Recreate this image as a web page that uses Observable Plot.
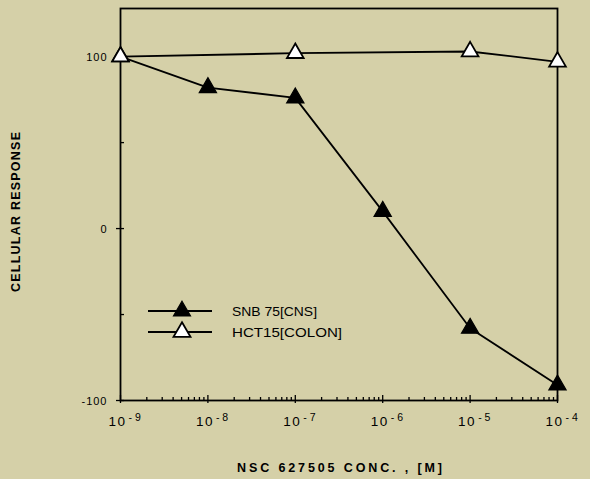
<!DOCTYPE html>
<html><head><meta charset="utf-8">
<script src="https://cdn.jsdelivr.net/npm/d3@7"></script>
<script src="https://cdn.jsdelivr.net/npm/@observablehq/plot@0.6"></script>
<style>
html,body{margin:0;padding:0;background:#d5d0a8;}
svg{display:block;}
</style>
</head><body><div id="chart"></div>
<script>
// ---- data ----
const snbConc = [1e-9, 1e-8, 1e-7, 1e-6, 1e-5, 1e-4];
const snbResponse = [100, 82, 76, 10, -58, -91];
const hctConc = [1e-9, 1e-7, 1e-5, 1e-4];
const hctResponse = [100, 102, 103, 97];
const seriesNames = ["SNB 75[CNS]", "HCT15[COLON]"];
const xTickValues = [1e-9, 1e-8, 1e-7, 1e-6, 1e-5, 1e-4];
const xTickExponents = ["-9", "-8", "-7", "-6", "-5", "-4"];
const yTickValues = [100, 0, -100];
const yMinorTicks = [50, -50];
const xLabel = "NSC 627505 CONC. , [M]";
const yLabel = "CELLULAR RESPONSE";

const xMinor = [];
for (let e = -9; e < -4; e++) for (let m = 2; m <= 9; m++) xMinor.push(m * Math.pow(10, e));

const snb = snbConc.map((c, i) => ({c, r: snbResponse[i]}));
const hct = hctConc.map((c, i) => ({c, r: hctResponse[i]}));
const FONT = "'Liberation Sans', Arial, sans-serif";

const plot = Plot.plot({
  width: 590, height: 479,
  marginLeft: 120, marginRight: 33, marginTop: 8, marginBottom: 79,
  style: {background: "#d5d0a8", fontFamily: FONT, color: "black"},
  x: {type: "log", domain: [1e-9, 1e-4], axis: null},
  y: {domain: [-100, 128], axis: null},
  marks: [
    Plot.frame({stroke: "black", strokeWidth: 1.8}),
    // x ticks
    Plot.axisX(xMinor, {anchor: "bottom", label: null, tickSize: 3, dy: -3, tickFormat: () => "", strokeWidth: 1.3}),
    Plot.axisX(xTickValues, {anchor: "bottom", label: null, tickSize: 8, dy: -5, tickFormat: () => "", strokeWidth: 1.3}),
    // y ticks
    Plot.axisY(yTickValues, {anchor: "left", label: null, tickSize: 8, dx: 4, tickFormat: () => "", strokeWidth: 1.3}),
    Plot.axisY(yMinorTicks, {anchor: "left", label: null, tickSize: 4, dx: 4, tickFormat: () => "", strokeWidth: 1.3}),
    // tick labels
    Plot.text(xTickValues, {x: d => d, y: -100, dy: 21, dx: -12, text: () => "10", textAnchor: "start", fontSize: 13.5}),
    Plot.text(yTickValues, {x: 1e-9, y: d => d, dx: -13, dy: 1, text: d => String(d), textAnchor: "end", fontSize: 11}),
    // series
    Plot.line(snb, {x: "c", y: "r", stroke: "black", strokeWidth: 1.8}),
    Plot.line(hct, {x: "c", y: "r", stroke: "black", strokeWidth: 1.8}),
    Plot.dot(snb, {x: "c", y: "r", symbol: "triangle", r: 6.4, fill: "black", stroke: "black", strokeWidth: 1.2}),
    Plot.dot(hct, {x: "c", y: "r", symbol: "triangle", r: 6.2, fill: "white", stroke: "black", strokeWidth: 1.8})
  ]
});
document.getElementById("chart").appendChild(plot);

const svg = d3.select(plot);
// superscript exponents on x tick labels
svg.selectAll("text").filter(function() { return this.textContent === "10"; }).each(function(d, i) {
  const t = d3.select(this);
  t.text("");
  t.append("tspan").attr("letter-spacing", "1.5px").text("10");
  t.append("tspan").attr("dx", 2).attr("dy", -5).attr("font-size", 10.5).text(xTickExponents[i].replace("-", "- "));
});
svg.selectAll("text").filter(function() { return /^-?\d+$/.test(this.textContent) && this.textContent !== "10"; })
  .attr("letter-spacing", "1px");

// axis titles
svg.append("text").attr("x", 237).attr("y", 472).attr("text-anchor", "start")
  .attr("font-family", FONT).attr("font-size", 12.5).attr("font-weight", "bold")
  .attr("textLength", 205).attr("lengthAdjust", "spacing")
  .text(xLabel);
svg.append("text").attr("transform", "translate(20,292) rotate(-90)").attr("text-anchor", "start")
  .attr("font-family", FONT).attr("font-size", 12.5).attr("font-weight", "bold")
  .attr("textLength", 160).attr("lengthAdjust", "spacing")
  .text(yLabel);

// legend
const legendWidths = [85, 110];
seriesNames.forEach((name, i) => {
  const g = svg.append("g").attr("transform", `translate(148,${311 + i * 21})`);
  g.append("line").attr("x1", 0).attr("x2", 64).attr("stroke", "black").attr("stroke-width", 1.8);
  g.append("path").attr("d", d3.symbol(d3.symbolTriangle, Math.PI * 6.3 * 6.3)()).attr("transform", "translate(34,0)")
    .attr("fill", i === 0 ? "black" : "white").attr("stroke", "black").attr("stroke-width", i === 0 ? 1.2 : 1.8);
  g.append("text").attr("x", 84).attr("dy", "0.36em").attr("text-anchor", "start")
    .attr("font-family", FONT).attr("font-size", 13)
    .attr("textLength", legendWidths[i]).attr("lengthAdjust", "spacingAndGlyphs").text(name);
});
</script>
</body></html>
